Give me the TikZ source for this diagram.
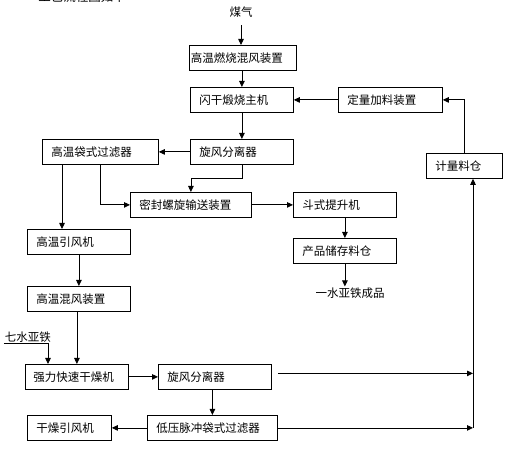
\documentclass[tikz,border=0pt]{standalone}
\usepackage{fontspec}
\setmainfont{Noto Sans CJK SC}
\usetikzlibrary{arrows.meta, positioning, calc}

\begin{document}
\begin{tikzpicture}[x=1pt, y=-1pt, font=\fontsize{11.5}{13}\selectfont,
    unit/.style={rectangle, draw, line width=0.8pt, anchor=north west, minimum height=25pt, inner xsep=9pt, inner ysep=0pt, align=left},
    flow/.style={-{Triangle[length=6pt, width=5.5pt]}, line width=0.8pt},
    txt/.style={inner sep=1pt}]

    \useasboundingbox (0,0) rectangle (509,462);

    % upper line
    \node[txt, font=\fontsize{12.5}{14}\selectfont] (title) at (82,-3) {工艺流程图如下};
    \node[txt] (gas) at (241,12) {煤气};
    \node[unit, text width=104pt, inner xsep=1.5pt] (hmix) at (189,45) {高温燃烧混风装置};
    \node[unit, text width=85pt] (calc) at (190,87) {闪干煅烧主机};
    \node[unit, text width=86pt] (dose) at (338,87) {定量加料装置};
    \node[unit, text width=85pt] (cyc1) at (190,139) {旋风分离器};
    \node[unit, text width=98pt] (hfilt) at (42,139) {高温袋式过滤器};
    \node[unit, text width=58pt] (meter) at (426,153) {计量料仓};
    \node[unit, text width=103pt] (screw) at (130,192) {密封螺旋输送装置};
    \node[unit, text width=85pt] (lift) at (293,192) {斗式提升机};
    \node[unit, text width=85pt] (store) at (293,238) {产品储存料仓};
    \node[txt] (product) at (350,293) {一水亚铁成品};

    % lower line
    \node[unit, text width=85pt] (hfan) at (27,229) {高温引风机};
    \node[unit, text width=85pt] (hmix2) at (27,286) {高温混风装置};
    \node[txt] (feso) at (28,337) {七水亚铁};
    \node[unit, inner xsep=8pt, text width=87pt] (dryer) at (25,364) {强力快速干燥机};
    \node[unit, text width=95pt] (cyc2) at (158,364) {旋风分离器};
    \node[unit, text width=112pt] (pulse) at (147,415) {低压脉冲袋式过滤器};
    \node[unit, text width=66pt] (dfan) at (27,415) {干燥引风机};
    \coordinate (bus) at (473,428);

    \draw[flow, shorten <=7pt] (gas.south) -- (gas.south |- hmix.north);
    \draw[flow] (calc.north |- hmix.south) -- (calc.north);
    \draw[flow] (calc) -- (cyc1);
    \draw[flow] (dose) -- (calc);
    \draw[flow] (cyc1) -- (hfilt);
    \draw[flow] (cyc1.south) -- ++(0,14) -| (screw.north);
    \draw[flow] (hfilt.south) |- (screw.west);
    \draw[flow] ([xshift=20pt]hfilt.south west) coordinate (hf) -- (hf |- hfan.north);
    \draw[flow] (screw) -- (lift);
    \draw[flow] (lift) -- (store);
    \draw[flow] (store.south) -- (store.south |- product.north);
    \draw[flow] (meter.north) |- (dose.east);

    \draw[flow] (hfan) -- (hmix2);
    \draw[flow] (dryer.north |- hmix2.south) -- (dryer.north);
    \draw[flow] (feso.south west) -| ([xshift=23pt]dryer.north west);
    \draw[flow] (dryer) -- (cyc2);
    \draw[flow] (pulse.north |- cyc2.south) -- (pulse.north);
    \draw[flow] (pulse) -- (dfan);

    % return to the metering bin
    \draw[flow] (pulse.east) -- (pulse.east -| bus);
    \draw[flow] ([shift={(6pt,3.5pt)}]cyc2.east) coordinate (c2) -- (c2 -| bus);
    \draw[flow] (pulse.east -| bus) -- (bus |- meter.south);
\end{tikzpicture}
\end{document}
